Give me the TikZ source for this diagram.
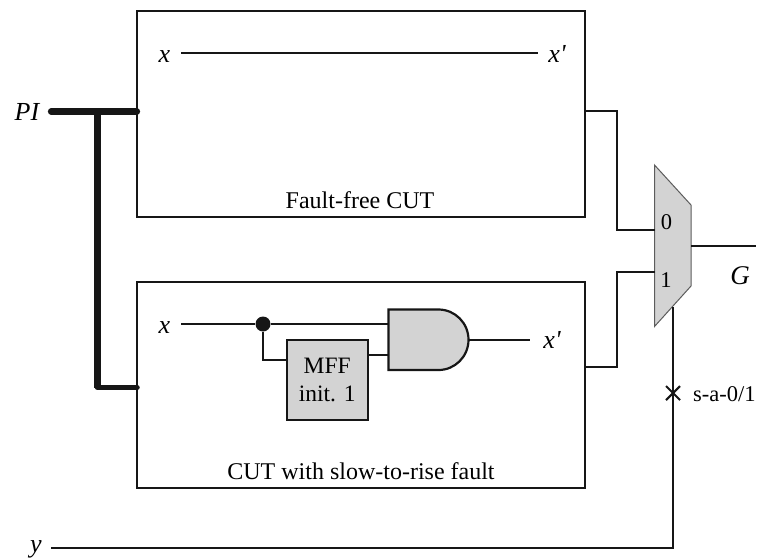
\documentclass[tikz,border=0pt]{standalone}
\usepackage{fontspec}
\setmainfont{Liberation Serif}
\usetikzlibrary{calc}
\definecolor{ink}{HTML}{161616}
\definecolor{fillgray}{HTML}{D3D3D3}
\tikzset{
  x=1pt,y=-1pt,
  wire/.style={draw=ink,line width=2.1pt,line join=miter},
  bus/.style={draw=ink,line width=6.2pt,line cap=round},
  cutbox/.style={draw=ink,line width=2.2pt,rectangle,minimum width=448pt,minimum height=206pt,inner sep=0pt,outer sep=0pt},
  mffbox/.style={draw=ink,fill=fillgray,line width=2pt,rectangle,minimum width=81pt,minimum height=80pt,inner sep=0pt,outer sep=0pt,align=center,font=\fontsize{23.5}{29}\selectfont},
  gray shape/.style={draw=ink,fill=fillgray,line width=2.2pt},
  mux shape/.style={draw=ink!70,fill=fillgray,line width=1pt},
  lbl/.style={inner sep=0pt,font=\fontsize{24}{26}\selectfont},
  small lbl/.style={inner sep=0pt,font=\fontsize{22.5}{26}\selectfont},
  ilbl/.style={inner sep=0pt,font=\fontsize{26}{28}\selectfont\itshape},
  dot/.style={circle,fill=ink,draw=none,minimum size=15pt,inner sep=0pt}
}
\begin{document}
\begin{tikzpicture}
\useasboundingbox (0,0) rectangle (760,558);
% boxes
\node[cutbox] (free) at (361,114) {};
\node[cutbox] (cut) at (361,385) {};
\node[lbl,anchor=base] (freelbl) at (360,208) {Fault-free CUT};
\node[lbl,anchor=base] (cutlbl) at (361,479) {CUT with slow-to-rise fault};
% PI bus
\node[ilbl,anchor=base] (pi) at (27,120) {PI};
\coordinate (pistart) at (51,111.5);
\coordinate (busT) at (97.5,111.5);
\coordinate (busB) at (97.5,387.5);
\coordinate (freeIn) at (free.west |- pistart);
\coordinate (cutIn) at (cut.west |- busB);
\draw[bus] (pistart) -- (freeIn);
\draw[bus,line cap=butt] (busT) -- (busB);
\draw[bus,line width=5.5pt] (busB) -- (cutIn);
% upper wire
\node[ilbl,anchor=base] (x1) at (164.5,62) {x};
\node[ilbl,anchor=base] (xp1) at (557,62) {x\textquotesingle};
\coordinate (x1a) at (181,53);
\coordinate (x1b) at (538,53);
\draw[wire] (x1a) -- (x1b);
% lower circuit
\node[ilbl,anchor=base] (x2) at (164.5,333) {x};
\node[ilbl,anchor=base] (xp2) at (552,348) {x\textquotesingle};
\node[dot] (junc) at (263,324) {};
\node[mffbox] (mff) at (327.2,380) {MFF\\[-1pt]init. 1};
\coordinate (gTL) at (388.5,309.5);
\coordinate (gBL) at (388.5,370);
\coordinate (gOut) at (468.5,339.75);
\coordinate (xs) at (181,324);
\coordinate (gI1) at (gTL |- xs);
\coordinate (gI2) at (388.5,355);
\coordinate (oEnd) at (530,339.75);
\draw[wire] (xs) -- (junc) -- (gI1);
\draw[wire] (junc) |- (mff.west |- 0,360);
\draw[wire] (mff.east |- gI2) -- (gI2);
\draw[wire] (gOut) -- (oEnd);
\draw[gray shape] (gTL) -- (438.5,309.5) .. controls (455,309.5) and (468.5,323) .. (gOut)
   .. controls (468.5,356.5) and (455,370) .. (438.5,370) -- (gBL) -- cycle;
% mux
\coordinate (mTL) at (654.5,165);
\coordinate (mTR) at (691,205);
\coordinate (mBR) at (691,286);
\coordinate (mBL) at (654.5,326.5);
\draw[mux shape] (mTL) -- (mTR) -- (mBR) -- (mBL) -- cycle;
\node[small lbl,anchor=base] (m0) at (666.5,229) {0};
\node[small lbl,anchor=base] (m1) at (666,287.5) {1};
% CUT to mux
\coordinate (o1) at (free.east |- 0,111);
\coordinate (m0in) at (654.5,230);
\coordinate (o2) at (cut.east |- 0,367);
\coordinate (m1in) at (654.5,272);
\draw[wire] (o1) -| (617,230) -- (m0in);
\draw[wire] (o2) -| (617,272) -- (m1in);
% output
\coordinate (mout) at (691,246);
\coordinate (gEnd) at (756,246);
\draw[wire] (mout) -- (gEnd);
\node[inner sep=0pt,font=\fontsize{27}{28}\selectfont\itshape,anchor=base] (g) at (740,284) {G};
% select
\node[ilbl,anchor=base] (y) at (36,552) {y};
\coordinate (ys) at (51,548);
\coordinate (sel) at (673,306.5);
\coordinate (corner) at (673,548);
\draw[wire] (ys) -- (corner) -- (sel);
% s-a mark
\coordinate (fault) at (673,393);
\draw[wire] ($(fault)+(-7,-7)$) -- ($(fault)+(7,7)$);
\draw[wire] ($(fault)+(-7,7)$) -- ($(fault)+(7,-7)$);
\node[small lbl,anchor=base west] (sa) at (693,401) {s-a-0/1};
\end{tikzpicture}
\end{document}
